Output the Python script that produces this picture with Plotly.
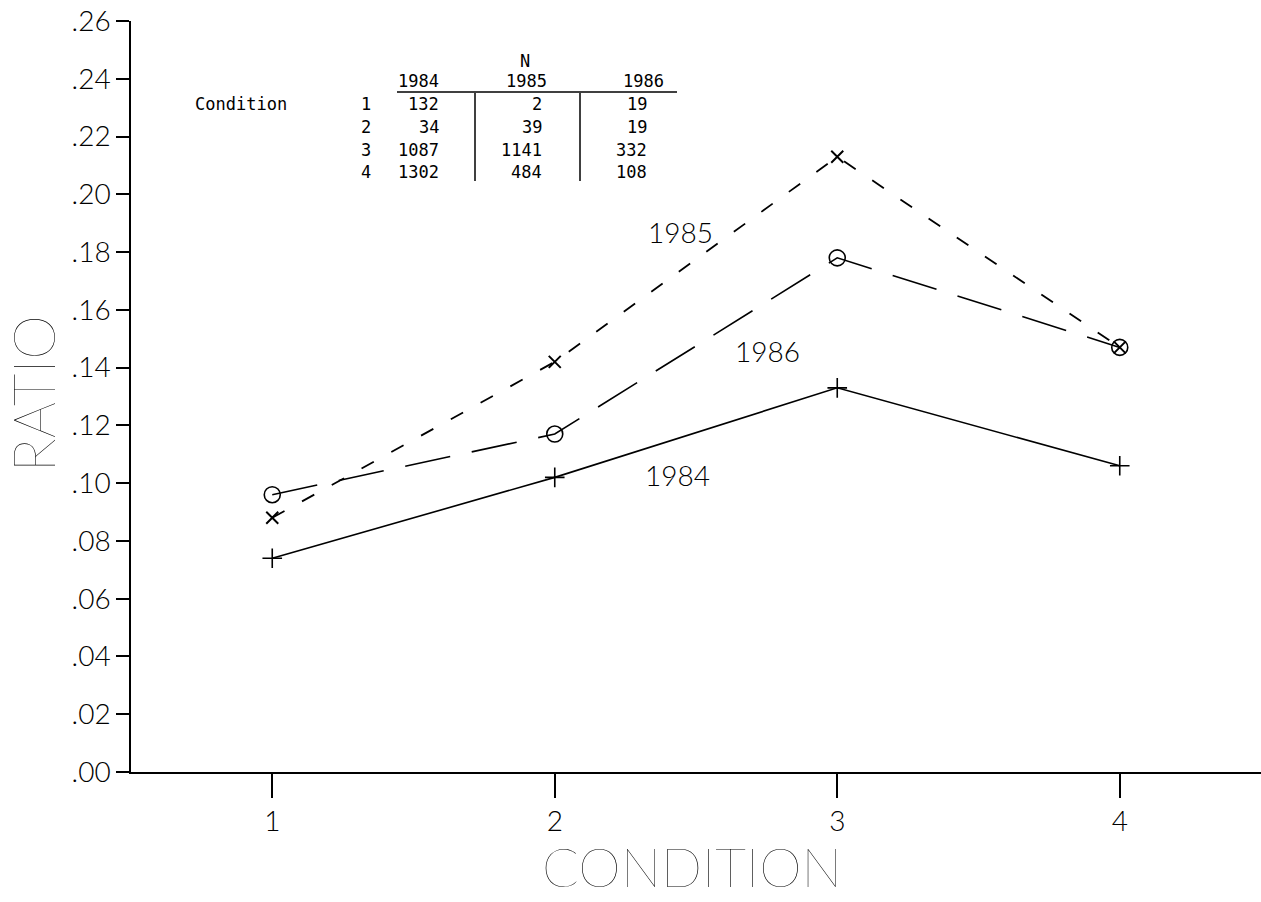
import plotly.graph_objects as go

# Ratio by condition, one series per year
conditions = [1, 2, 3, 4]
ratio_1984 = [0.074, 0.102, 0.133, 0.106]
ratio_1985 = [0.088, 0.142, 0.213, 0.147]
ratio_1986 = [0.096, 0.117, 0.178, 0.147]

# Sample sizes (N) per condition and year
years = ["1984", "1985", "1986"]
n_1984 = [132, 34, 1087, 1302]
n_1985 = [2, 39, 1141, 484]
n_1986 = [19, 19, 332, 108]

y_ticks = [0.00, 0.02, 0.04, 0.06, 0.08, 0.10, 0.12, 0.14, 0.16, 0.18, 0.20, 0.22, 0.24, 0.26]
y_ticktext = [".00", ".02", ".04", ".06", ".08", ".10", ".12", ".14", ".16", ".18", ".20", ".22", ".24", ".26"]

W, H = 1261, 902
ML, MR, MT, MB = 131, 0, 21, 130
PW, PH = W - ML - MR, H - MT - MB


def px(x):
    return (x - ML) / PW


def py(y):
    return (H - MB - y) / PH


INK = "black"
LABEL_FONT = dict(family="Lato, Liberation Sans, sans-serif", size=28, color=INK, weight=300)
TITLE_FONT = dict(family="Lato, Liberation Sans, sans-serif", size=54, color=INK, weight=100)
TABLE_FONT = dict(family="DejaVu Sans Mono, monospace", size=17, color=INK)

fig = go.Figure()

fig.add_trace(go.Scatter(
    x=conditions, y=ratio_1984, mode="lines+markers", name="1984",
    line=dict(color=INK, width=1.6, dash="solid"),
    marker=dict(symbol="cross-thin", size=14, line=dict(color=INK, width=1.6)),
))
fig.add_trace(go.Scatter(
    x=conditions, y=ratio_1985, mode="lines+markers", name="1985",
    line=dict(color=INK, width=1.8, dash="14px,20px"),
    marker=dict(symbol="x-thin", size=12, line=dict(color=INK, width=2)),
))
fig.add_trace(go.Scatter(
    x=conditions, y=ratio_1986, mode="lines+markers", name="1986",
    line=dict(color=INK, width=1.6, dash="46px,22px"),
    marker=dict(symbol="circle-open", size=16, color=INK, line=dict(color=INK, width=1.6)),
))

annotations = []

# Series labels beside the lines
for text, x, y in [("1985", 680, 232), ("1986", 767, 351), ("1984", 677, 475)]:
    annotations.append(dict(text=text, x=px(x), y=py(y), xref="paper", yref="paper",
                            showarrow=False, font=LABEL_FONT, xanchor="center", yanchor="middle"))

# Axis titles
annotations.append(dict(text="CONDITION", x=px(692), y=py(866), xref="paper", yref="paper",
                        showarrow=False, font=TITLE_FONT, xanchor="center", yanchor="middle"))
annotations.append(dict(text="RATIO", x=px(33), y=py(394), xref="paper", yref="paper",
                        showarrow=False, font=dict(TITLE_FONT, size=57), textangle=-90,
                        xanchor="center", yanchor="middle"))

# Sample-size table
annotations.append(dict(text="N", x=px(525), y=py(61), xref="paper", yref="paper",
                        showarrow=False, font=TABLE_FONT, xanchor="center", yanchor="middle"))
for yr, cx in zip(years, [418, 526, 643]):
    annotations.append(dict(text=yr, x=px(cx), y=py(81), xref="paper", yref="paper",
                            showarrow=False, font=TABLE_FONT, xanchor="center", yanchor="middle"))
annotations.append(dict(text="Condition", x=px(193), y=py(104), xref="paper", yref="paper",
                        showarrow=False, font=TABLE_FONT, xanchor="left", yanchor="middle"))
row_y = [104, 127, 150, 172]
for i, c in enumerate(conditions):
    ry = row_y[i]
    annotations.append(dict(text=str(c), x=px(366), y=py(ry), xref="paper", yref="paper",
                            showarrow=False, font=TABLE_FONT, xanchor="center", yanchor="middle"))
    for col, right in zip([n_1984, n_1985, n_1986], [441, 544, 649]):
        annotations.append(dict(text=str(col[i]), x=px(right), y=py(ry), xref="paper", yref="paper",
                                showarrow=False, font=TABLE_FONT, xanchor="right", yanchor="middle"))

shapes = [
    dict(type="line", xref="paper", yref="paper", x0=px(397), x1=px(677), y0=py(92), y1=py(92),
         line=dict(color=INK, width=1.5)),
    dict(type="line", xref="paper", yref="paper", x0=px(475), x1=px(475), y0=py(93), y1=py(181),
         line=dict(color=INK, width=1.5)),
    dict(type="line", xref="paper", yref="paper", x0=px(580), x1=px(580), y0=py(93), y1=py(181),
         line=dict(color=INK, width=1.5)),
]

fig.update_layout(
    width=W, height=H,
    margin=dict(l=ML, r=MR, t=MT, b=MB, pad=0),
    paper_bgcolor="white", plot_bgcolor="white",
    showlegend=False,
    annotations=annotations,
    shapes=shapes,
    xaxis=dict(
        range=[0.5, 4.5], tickvals=conditions, ticktext=[str(c) for c in conditions],
        showgrid=False, zeroline=False, showline=True, linecolor=INK, linewidth=1.5,
        ticks="outside", ticklen=24, tickwidth=1.5, tickcolor=INK,
        tickfont=LABEL_FONT,
    ),
    yaxis=dict(
        range=[0, 0.26], tickvals=y_ticks, ticktext=y_ticktext,
        showgrid=False, zeroline=False, showline=True, linecolor=INK, linewidth=1.5,
        ticks="outside", ticklen=13, tickwidth=1.5, tickcolor=INK,
        tickfont=LABEL_FONT,
    ),
)

fig.write_html("out.html")
